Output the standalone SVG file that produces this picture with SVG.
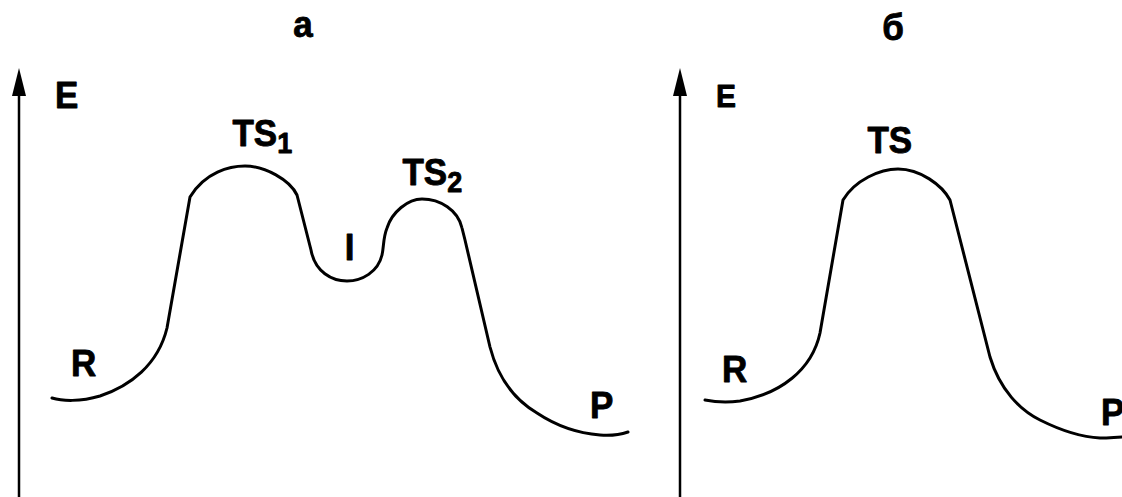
<svg xmlns="http://www.w3.org/2000/svg" width="1122" height="497" viewBox="0 0 1122 497">
  <style>
    .axis { stroke: #000; stroke-width: 2.5; fill: none; }
    .curve { stroke: #000; stroke-width: 3; fill: none; stroke-linejoin: round; stroke-linecap: round; }
    .lbl { font-family: "Liberation Sans", Arial, sans-serif; font-weight: bold; fill: #000; stroke: #000; stroke-width: 0.8; stroke-linejoin: round; font-size: 35px; }
    .sub { font-size: 27px; }
    .small { font-size: 30px; }
  </style>
  <defs>
    <marker id="arrow" viewBox="0 0 28 14" markerWidth="28" markerHeight="14" refX="16" refY="7" orient="auto" markerUnits="userSpaceOnUse">
      <path d="M0,0 L28,7 L0,14 z" fill="#000"/>
    </marker>
  </defs>
  <rect width="1122" height="497" fill="#fff"/>

  <g id="panel-a">
    <text class="lbl" text-anchor="middle" transform="translate(303,36.5) scale(1,1.08)">а</text>
    <line class="axis" x1="19" y1="497" x2="19" y2="80" marker-end="url(#arrow)"/>
    <text class="lbl" transform="translate(55,107.5) scale(1,1.08)">E</text>
    <path class="curve" d="M52,398 C62,401 80,402 100,396 C130,386 158,365 167,328 L190,197 C205,172 230,166 245,166 C265,166 290,180 297,195 L311,250 C315,272 332,281 347,281 C362,281 378,272 382,255 C384,246 383,238 387,228 C392,212 408,199 422,199 C440,199 458,210 462,228 L465,240 L490,347 C498,378 515,400 537,413 C555,425 575,433 600,435 C612,436 622,434 628,432"/>
    <text class="lbl" transform="translate(232.5,145.5) scale(1,1.08)">TS<tspan class="sub" dy="7">1</tspan></text>
    <text class="lbl" transform="translate(402.5,184.5) scale(1,1.08)">TS<tspan class="sub" dy="7">2</tspan></text>
    <text class="lbl" text-anchor="middle" transform="translate(349.5,259.5) scale(1,1.08)">I</text>
    <text class="lbl" transform="translate(71,375.5) scale(1,1.08)">R</text>
    <text class="lbl" transform="translate(590,417.5) scale(1,1.08)">P</text>
  </g>

  <g id="panel-b">
    <text class="lbl" text-anchor="middle" transform="translate(893,39.5) scale(1,1.08)">б</text>
    <line class="axis" x1="680" y1="497" x2="680" y2="80" marker-end="url(#arrow)"/>
    <text class="lbl small" transform="translate(716,106.5) scale(1,1.02)">E</text>
    <path class="curve" d="M705,400 C715,402 725,403 740,401 C780,394 812,370 820,333 L843,200 C855,180 880,169 898,169 C920,169 942,185 950,200 L990,357 C1000,390 1020,410 1040,420 C1060,430 1080,437 1100,438 C1110,438 1116,437 1122,437"/>
    <text class="lbl" transform="translate(867.5,152.5) scale(1,1.08)">TS</text>
    <text class="lbl" transform="translate(722,381.5) scale(1,1.08)">R</text>
    <text class="lbl" transform="translate(1101,424.5) scale(1,1.08)">P</text>
  </g>
</svg>
